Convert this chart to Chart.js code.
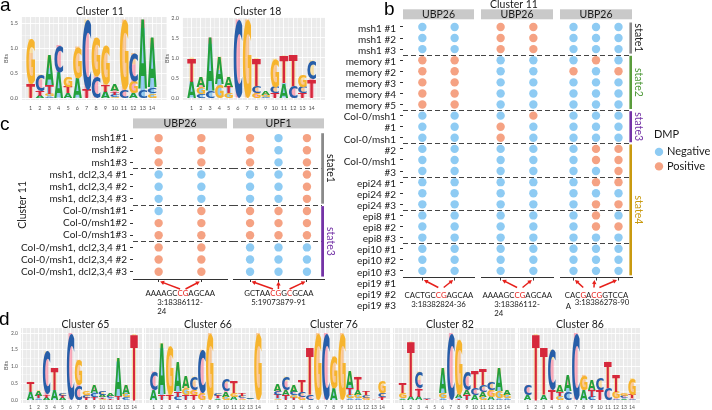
<!DOCTYPE html>
<html>
<head>
<meta charset="utf-8">
<script src="https://cdn.jsdelivr.net/npm/chart.js@4.4.1/dist/chart.umd.min.js"></script>
<style>
  html, body { margin: 0; padding: 0; background: #fff; }
  #fig { position: relative; width: 712px; height: 410px; overflow: hidden; }
  #fig canvas { position: absolute; left: 0; top: 0; }
</style>
</head>
<body>
<div id="fig"></div>
<script>
// ---------- data ----------
const positions = ['1','2','3','4','5','6','7','8','9','10','11','12','13','14'];

// sequence logos: information (bits) per letter and position
const c11A = [0, 0.04, 0.6, 0.52, 0.1, 0.4, 0, 0, 0.13, 0.12, 0, 0.1, 1.4, 1.0];
const c11C = [0, 0.33, 0.03, 0.54, 0, 0, 1.4, 0.43, 0, 0.05, 0.17, 0.57, 0.17, 0.11];
const c11G = [0.9, 0, 0.05, 0, 0.2, 0.63, 0, 0.77, 0.77, 0.02, 1.4, 0.23, 0, 0.09];
const c11T = [0.28, 0.1, 0.17, 0, 0.12, 0, 0.17, 0, 0.13, 0.06, 0, 0, 0, 0];

const c18A = [0.41, 0.26, 1.35, 0.7, 0.25, 0, 0, 0, 0.08, 0, 0.37, 0, 0, 0];
const c18C = [0, 0.1, 0.16, 0, 0, 1.96, 0, 0.17, 0.02, 0.15, 0, 0.29, 0.15, 0.48];
const c18G = [0, 0.16, 0, 0.33, 0.12, 0, 1.96, 0.13, 0.05, 0.71, 0, 0, 0.3, 0];
const c18T = [0.6, 0, 0, 0, 0.16, 0, 0, 0.7, 0, 0.12, 0.69, 0.78, 0.12, 0.46];

const c65A = [0.25, 0.17, 0.07, 0.3, 0.06, 0, 0, 0, 0.25, 0.07, 0.08, 1.15, 0.27, 0];
const c65C = [0, 0.05, 1.3, 0, 0.08, 2.0, 0.45, 0.08, 0.12, 0.1, 0.07, 0, 0.08, 0];
const c65G = [0, 0, 0, 0, 0, 0, 0.75, 0.12, 0, 0.04, 0, 0, 0.1, 0];
const c65T = [0.3, 0.08, 0.08, 0.65, 0.07, 0, 0, 0.07, 0.08, 0.05, 0.05, 0.1, 0, 1.97];

const c66A = [0.3, 1.55, 0, 0.85, 0.35, 0, 0, 0, 0.05, 0.15, 0.1, 0, 0.02, 0];
const c66C = [0.55, 0, 0, 0.1, 0, 0.4, 1.3, 0, 0.08, 0.35, 0, 0.07, 0.02, 0];
const c66G = [0, 0, 1.45, 0, 0.2, 0.16, 0.2, 2.0, 0, 0.1, 0.11, 0.05, 0.01, 2.0];
const c66T = [0, 0.15, 0.15, 0.15, 0.15, 0.14, 0, 0, 0.06, 0, 0.35, 0.08, 0.01, 0];

const c76A = [0.2, 0.16, 0.2, 0, 0, 0, 0, 0.35, 0, 0.5, 0.15, 0, 0.01, 0];
const c76C = [0.11, 0.4, 0.1, 0.15, 0.15, 0, 2.0, 0, 0, 0.05, 0.05, 0.08, 0.01, 0.1];
const c76G = [0.05, 0, 0.08, 0.1, 0, 2.0, 0, 0.95, 2.0, 0.1, 0.1, 0.07, 0.01, 0.35];
const c76T = [0.1, 0.14, 0.07, 0.35, 1.4, 0, 0, 0, 0, 0.2, 0.4, 0.1, 0, 0.09];

const c82A = [0.05, 0.1, 0.1, 0, 0.01, 0.75, 0, 0.1, 0.15, 0.15, 0.15, 0.1, 0.7, 0.15];
const c82C = [0, 0, 0.5, 0.03, 0.01, 0.05, 2.0, 0, 0.55, 0.2, 0.2, 0.25, 0.05, 0.05];
const c82G = [0.15, 0, 0, 0, 0, 0.15, 0, 1.65, 0, 0, 0.1, 0.2, 0.2, 0.1];
const c82T = [0.3, 1.65, 0.25, 0.02, 0, 0, 0, 0.05, 0.14, 0.5, 0.45, 0, 0, 0];

const c86A = [0.15, 0, 0.15, 0, 0.2, 0.45, 0, 0.3, 0.3, 0, 0, 0, 0.05, 0];
const c86C = [0.3, 0, 0, 1.2, 0, 0.25, 2.0, 0, 0.1, 0.35, 0.35, 0.05, 0.07, 0.05];
const c86G = [0, 0, 0, 0, 0.12, 0, 0, 0.45, 0, 0, 0, 0.2, 0.08, 0.5];
const c86T = [0, 1.97, 1.4, 0.3, 0.13, 0, 0, 0, 0.2, 0.3, 0.8, 0.5, 0, 0.1];

// panel b: DMP calls (1 = Positive, 0 = Negative), one array per site column
const bLabels = ['msh1 #1', 'msh1 #2', 'msh1 #3', 'memory #1', 'memory #2', 'memory #3', 'memory #4', 'memory #5',
  'Col-0/msh1', '#1', 'Col-0/msh1', '#2', 'Col-0/msh1', '#3', 'epi24 #1', 'epi24 #2', 'epi24 #3',
  'epi8 #1', 'epi8 #2', 'epi8 #3', 'epi10 #1', 'epi10 #2', 'epi10 #3', 'epi19 #1', 'epi19 #2', 'epi19 #3'];
const bRowCount = 23;
const bSite1 = [
  [0,0,0,1,1,1,1,1,0,0,0,0,0,0,0,0,0,0,0,0,0,0,0],
  [0,0,0,1,1,1,1,1,0,0,0,0,0,0,0,0,0,0,0,0,0,0,0]];
const bSite2 = [
  [1,1,1,0,0,0,0,0,0,1,1,0,0,0,0,0,0,0,0,0,0,0,0],
  [1,1,1,0,0,0,0,0,1,0,0,0,0,0,0,0,0,0,0,0,0,0,0]];
const bSite3 = [
  [0,0,0,0,1,0,0,0,0,0,0,0,0,0,0,0,0,0,0,0,0,0,0],
  [0,0,0,1,0,0,0,0,0,0,0,1,1,0,1,0,1,1,1,0,0,0,0],
  [0,0,0,0,1,0,0,0,0,0,0,1,1,1,1,0,1,0,1,0,0,0,0]];
const bGroupEnds = [3, 8, 11, 14, 17, 20];
const bStates = ['state1', 'state2', 'state3', 'state4'];
const bStateRows = [[1, 3], [4, 8], [9, 11], [12, 23]];
const bFacets = ['UBP26', 'UBP26', 'UBP26'];
const bSites = [
  { seq: 'CACTGCCGAGCAA', red: [7, 8], coord: ['3:18382824-36'] },
  { seq: 'AAAAGCCGAGCAA', red: [7, 8], coord: ['3:18386112-', '24'] },
  { seq: 'CACGACGGTCCA', red: [4, 6, 7], tail: 'A', coord: ['3:18386278-90'] }];

// panel c
const cLabels = ['msh1#1', 'msh1#2', 'msh1#3', 'msh1, dcl2,3,4 #1', 'msh1, dcl2,3,4 #2', 'msh1, dcl2,3,4 #3',
  'Col-0/msh1#1', 'Col-0/msh1#2', 'Col-0/msh1#3', 'Col-0/msh1, dcl2,3,4 #1', 'Col-0/msh1, dcl2,3,4 #2', 'Col-0/msh1, dcl2,3,4 #3'];
const cUBP26 = [
  [1,1,1,0,0,0,0,1,1,1,1,1],
  [1,1,1,0,0,0,1,1,1,1,1,1]];
const cUPF1 = [
  [1,1,1,0,0,0,1,1,1,0,0,0],
  [0,0,0,0,0,0,1,1,1,0,0,0],
  [1,1,1,1,1,1,1,1,1,0,0,0]];
const cGroupEnds = [3, 6, 9];
const cStates = ['state1', 'state3'];
const cStateRows = [[1, 6], [7, 12]];
const cFacets = ['UBP26', 'UPF1'];
const cSites = [
  { seq: 'AAAAGCCGAGCAA', red: [7, 8], coord: ['3:18386112-', '24'] },
  { seq: 'GCTAACGGCGCAA', red: [6, 7, 9], coord: ['5:19073879-91'] }];

// ---------- styles ----------
const letterColors = { A: '#23a03c', C: '#275ea8', G: '#f6b42e', T: '#d6283c' };
const dmpColors = { Negative: '#8ecbf3', Positive: '#f5a283' };
const stateColors = { state1: '#8a8a8a', state2: '#5a9c3c', state3: '#7433a6', state4: '#c99a10' };
const stateText = { state1: '#222', state2: '#4f9a3a', state3: '#7433a6', state4: '#c99a10' };
const RED = '#e6201b';
const INK = '#1a1a1a';
Chart.defaults.font.family = 'Lato';
Chart.defaults.color = INK;

const W = 712, H = 410;
const fig = document.getElementById('fig');
function canvas() {
  const c = document.createElement('canvas');
  c.width = W; c.height = H;
  fig.appendChild(c);
  return c;
}
function pad(g, yw, xh) {
  return { left: g.l - yw, top: g.t, right: W - g.r, bottom: H - g.b - xh };
}
function text(ctx, s, x, y, font, color, align, rot) {
  ctx.save();
  ctx.font = font; ctx.fillStyle = color || INK;
  ctx.textAlign = align || 'center'; ctx.textBaseline = 'middle';
  ctx.translate(x, y);
  if (rot) ctx.rotate(rot);
  ctx.fillText(s, 0, 0);
  ctx.restore();
}
const panelFont = '19px "Liberation Sans"';

// ---------- sequence logo ----------
function drawGlyph(ctx, ch, color, x, y, w, h) {
  if (h < 0.25) return;
  ctx.save();
  ctx.font = 'bold 100px "DejaVu Sans"';
  const m = ctx.measureText(ch);
  const gw = m.actualBoundingBoxLeft + m.actualBoundingBoxRight;
  const gh = m.actualBoundingBoxAscent + m.actualBoundingBoxDescent;
  ctx.translate(x, y);
  ctx.scale(w / gw, h / gh);
  ctx.fillStyle = color;
  ctx.textAlign = 'left'; ctx.textBaseline = 'alphabetic';
  ctx.fillText(ch, m.actualBoundingBoxLeft, m.actualBoundingBoxAscent);
  ctx.restore();
}

const logoLetters = {
  id: 'logoLetters',
  beforeDraw(chart) {
    const a = chart.chartArea, ctx = chart.ctx;
    ctx.save();
    ctx.fillStyle = '#ebebeb';
    ctx.fillRect(a.left, a.top, a.width, a.height);
    ctx.restore();
  },
  afterDatasetsDraw(chart) {
    const ctx = chart.ctx, a = chart.chartArea, xs = chart.scales.x, ys = chart.scales.y;
    const step = Math.abs(xs.getPixelForValue(2) - xs.getPixelForValue(1));
    ctx.save();
    ctx.beginPath(); ctx.rect(a.left, a.top, a.width, a.height); ctx.clip();
    chart.data.labels.forEach((lab, i) => {
      const cx = xs.getPixelForValue(Number(lab));
      const w = step * 0.94;
      const stack = chart.data.datasets.map(d => ({ d, v: d.data[i] }))
        .filter(s => s.v > 0).sort((p, q) => p.v - q.v);
      let base = 0;
      stack.forEach(s => {
        const y0 = ys.getPixelForValue(base), y1 = ys.getPixelForValue(base + s.v);
        drawGlyph(ctx, s.d.label, s.d.glyph, cx - w / 2, y1, w, y0 - y1);
        base += s.v;
      });
    });
    ctx.restore();
  }
};

function logo(title, A, C, G, T, g) {
  const yTicks = [];
  for (let v = 0; v <= g.yMax + 1e-9; v += 0.25) yTicks.push(+v.toFixed(2));
  const xTicks = [];
  for (let v = Math.ceil(g.xMin * 2) / 2; v <= g.xMax + 1e-9; v += 0.5) xTicks.push(v);
  const major = v => Math.abs(v * 2 - Math.round(v * 2)) < 1e-6;
  return new Chart(canvas(), {
    type: 'bar',
    data: {
      labels: positions,
      datasets: [['A', A], ['C', C], ['G', G], ['T', T]].map(([l, d]) => ({ label: l, data: d, glyph: letterColors[l] }))
    },
    options: {
      responsive: false, animation: false, events: [],
      layout: { padding: pad(g, g.yw, g.xh) },
      datasets: { bar: { backgroundColor: 'rgba(0,0,0,0)', borderWidth: 0, categoryPercentage: 1, barPercentage: 0.94 } },
      plugins: { legend: { display: false }, tooltip: { enabled: false } },
      scales: {
        x: {
          type: 'linear', stacked: true, min: g.xMin, max: g.xMax, offset: false,
          afterBuildTicks: s => { s.ticks = xTicks.map(v => ({ value: v })); },
          afterFit: s => { s.height = g.xh; },
          ticks: { autoSkip: false, maxRotation: 0, padding: g.xPad, font: { size: g.tick }, color: '#555',
            callback: v => (Number.isInteger(v) && v >= 1 && v <= 14 ? String(v) : '') },
          grid: { color: '#fff', offset: false, drawTicks: false,
            lineWidth: c => (c.tick && Number.isInteger(c.tick.value) ? 0.9 : 0.4) },
          border: { display: false }
        },
        y: {
          stacked: true, min: g.yMin, max: g.yMax,
          afterBuildTicks: s => { s.ticks = yTicks.map(v => ({ value: v })); },
          afterFit: s => { s.width = g.yw; },
          ticks: { display: g.showY, autoSkip: false, padding: 3, font: { size: g.tick }, color: '#555',
            callback: v => (major(v) ? v.toFixed(1) : '') },
          title: { display: g.showY, text: 'Bits', font: { size: 5.5 }, color: '#555', padding: { top: 2, bottom: 0 } },
          grid: { color: '#fff', drawTicks: false,
            lineWidth: c => (c.tick && major(c.tick.value) ? 0.9 : 0.4) },
          border: { display: false }
        }
      }
    },
    plugins: [logoLetters, {
      id: 'logoTitle',
      afterDraw(chart) {
        const a = chart.chartArea, ctx = chart.ctx;
        text(ctx, title, (a.left + a.right) / 2 + g.titleDx, g.titleY, '10.5px Lato', INK);
        if (g.panel) text(ctx, g.panel[0], g.panel[1], g.panel[2], panelFont, '#000', 'left');
      }
    }]
  });
}

// ---------- DMP dot panels ----------
function arrow(ctx, x0, y0, x1, y1) {
  const ang = Math.atan2(y1 - y0, x1 - x0), L = 4.6, spread = 0.5;
  ctx.beginPath();
  ctx.moveTo(x0, y0);
  ctx.lineTo(x1 - Math.cos(ang) * L * 0.7, y1 - Math.sin(ang) * L * 0.7);
  ctx.stroke();
  ctx.beginPath();
  ctx.moveTo(x1, y1);
  ctx.lineTo(x1 - L * Math.cos(ang - spread), y1 - L * Math.sin(ang - spread));
  ctx.lineTo(x1 - L * Math.cos(ang + spread), y1 - L * Math.sin(ang + spread));
  ctx.closePath();
  ctx.fill();
}

function drawSite(chart, site, dy) {
  const ctx = chart.ctx, a = chart.chartArea, xs = chart.scales.x;
  const cx = (a.left + a.right) / 2, y0 = a.bottom;
  ctx.save();
  ctx.font = '7.8px Lato';
  ctx.textAlign = 'left'; ctx.textBaseline = 'middle';
  const w = ctx.measureText(site.seq).width;
  const left = cx - w / 2;
  let x = left;
  const redX = [];
  [...site.seq].forEach((ch, i) => {
    const cw = ctx.measureText(ch).width;
    const isRed = site.red.includes(i + 1);
    ctx.fillStyle = isRed ? RED : INK;
    ctx.fillText(ch, x, y0 + dy);
    if (isRed) redX.push(x + cw / 2);
    x += cw;
  });
  ctx.fillStyle = INK;
  if (site.tail) {
    ctx.fillText(site.tail, left + 1, y0 + dy + 10.5);
    ctx.fillText(site.coord[0], left + 10, y0 + dy + 6.5);
  } else {
    const l2 = cx - ctx.measureText(site.coord[0]).width / 2;
    site.coord.forEach((t, k) => ctx.fillText(t, l2, y0 + dy + 9 + k * 9.3));
  }
  ctx.strokeStyle = RED; ctx.fillStyle = RED; ctx.lineWidth = 1.5;
  redX.forEach((sx, k) => {
    const tx = xs.getPixelForValue(k);
    const shift = Math.abs(sx - tx) < 1 ? 0 : Math.sign(sx - tx) * 1.5;
    arrow(ctx, sx, y0 + 10, tx + shift, y0 + 2.5);
  });
  ctx.restore();
}

function drawStates(chart, names, rows, barW, textDx) {
  const ctx = chart.ctx, a = chart.chartArea, ys = chart.scales.y;
  names.forEach((nm, k) => {
    const top = ys.getPixelForValue(rows[k][0] - 0.4), bot = ys.getPixelForValue(rows[k][1] + 0.4);
    ctx.fillStyle = stateColors[nm];
    ctx.fillRect(a.right - barW, top, barW, bot - top);
    text(ctx, nm, a.right + textDx, (top + bot) / 2, '10.5px Lato', stateText[nm], 'center', Math.PI / 2);
  });
}

function dmp(cols, nRows, g) {
  const neg = [], posi = [];
  cols.forEach((col, ci) => col.forEach((v, ri) => (v ? posi : neg).push({ x: ci, y: ri + 1 })));
  return new Chart(canvas(), {
    type: 'scatter',
    data: {
      datasets: [
        { label: 'Negative', data: neg, backgroundColor: dmpColors.Negative },
        { label: 'Positive', data: posi, backgroundColor: dmpColors.Positive }]
    },
    options: {
      responsive: false, animation: false, events: [],
      layout: { padding: pad(g, g.yw, 4) },
      elements: { point: { radius: 4.2, hoverRadius: 4.2, borderWidth: 0 } },
      plugins: { legend: { display: false }, tooltip: { enabled: false } },
      scales: {
        x: {
          type: 'linear', min: -0.6, max: cols.length - 0.4,
          afterBuildTicks: s => { s.ticks = cols.map((c, i) => ({ value: i })); },
          afterFit: s => { s.height = 4; },
          ticks: { display: false },
          grid: { drawOnChartArea: false, tickLength: 3, color: '#333' },
          border: { display: true, color: '#333', width: 1 }
        },
        y: {
          type: 'linear', reverse: true, min: 0.4, max: nRows + 0.6, display: g.yw > 0,
          afterBuildTicks: s => { s.ticks = cols[0].map((v, i) => ({ value: i + 1 })); },
          afterFit: s => { s.width = g.yw; },
          ticks: { display: !!g.yLabels, autoSkip: false, padding: 3, font: { size: 10 }, color: INK,
            callback: v => (g.yLabels ? g.yLabels[v - 1] : '') },
          grid: { drawOnChartArea: false, tickLength: 3, color: '#333' },
          border: { display: false }
        }
      }
    },
    plugins: [{
      id: 'dmpDecor',
      beforeDatasetsDraw(chart) {
        const ctx = chart.ctx, a = chart.chartArea, ys = chart.scales.y;
        ctx.save();
        ctx.setLineDash([5, 3]); ctx.strokeStyle = '#444'; ctx.lineWidth = 1;
        g.breaks.forEach(r => {
          const py = Math.round(ys.getPixelForValue(r + 0.5)) + 0.5;
          ctx.beginPath(); ctx.moveTo(a.left, py); ctx.lineTo(a.right + g.ext, py); ctx.stroke();
        });
        ctx.restore();
      },
      afterDraw(chart) {
        const ctx = chart.ctx, a = chart.chartArea;
        ctx.save();
        ctx.fillStyle = '#c9c9c9';
        ctx.fillRect(a.left, a.top - g.stripGap - 10, a.width, 10);
        ctx.restore();
        text(ctx, g.facet, (a.left + a.right) / 2, a.top - g.stripGap - 4.6, '10.5px Lato', INK);
        drawSite(chart, g.site, g.seqDy);
        if (g.extra) g.extra(chart, ctx, a);
      }
    }]
  });
}

// ---------- panel a ----------
logo('Cluster 11', c11A, c11C, c11G, c11T,
  { l: 21, t: 17, r: 167, b: 100, xMin: -0.03, xMax: 15.6, yMin: -0.04, yMax: 1.62, yw: 20, xh: 12, xPad: 5,
    tick: 5.5, showY: true, titleY: 11.5, titleDx: 6, panel: ['a', 0, 6] });
logo('Cluster 18', c18A, c18C, c18G, c18T,
  { l: 182, t: 17, r: 325, b: 100, xMin: -0.05, xMax: 15.45, yMin: -0.05, yMax: 2.02, yw: 20, xh: 12, xPad: 5,
    tick: 5.5, showY: true, titleY: 11.5, titleDx: 4 });

// ---------- panel d ----------
const dBox = { t: 328, b: 403, xMin: -0.2, xMax: 15, yMin: -0.09, yMax: 2.15, xh: 7, xPad: 1.5, tick: 5, titleY: 324.5 };
logo('Cluster 65', c65A, c65C, c65G, c65T, Object.assign({}, dBox, { l: 21, r: 142, yw: 20, showY: true, titleDx: 4, panel: ['d', -1, 320] }));
logo('Cluster 66', c66A, c66C, c66G, c66T, Object.assign({}, dBox, { l: 144, r: 266, yw: 0, showY: false, titleDx: 3 }));
logo('Cluster 76', c76A, c76C, c76G, c76T, Object.assign({}, dBox, { l: 268, r: 390, yw: 0, showY: false, titleDx: 5 }));
logo('Cluster 82', c82A, c82C, c82G, c82T, Object.assign({}, dBox, { l: 393, r: 515, yw: 0, showY: false, titleDx: -4 }));
logo('Cluster 86', c86A, c86C, c86G, c86T, Object.assign({}, dBox, { l: 518, r: 640, yw: 0, showY: false, titleDx: 1 }));

// ---------- panel b ----------
const bBox = { t: 20.3, b: 277.5, breaks: bGroupEnds, stripGap: 1, seqDy: 18 };
dmp(bSite1, bRowCount, Object.assign({}, bBox, {
  l: 403, r: 474, yw: 4, ext: 7, facet: bFacets[0], site: bSites[0],
  extra(chart, ctx, a) {
    const ys = chart.scales.y;
    ctx.save();
    ctx.font = '10px Lato'; ctx.fillStyle = INK; ctx.textAlign = 'right'; ctx.textBaseline = 'middle';
    bLabels.forEach((t, i) => ctx.fillText(t, a.left - 7, ys.getPixelForValue(i + 1) + 1.5));
    ctx.restore();
    text(ctx, 'Cluster 11', 514, 4.8, '10.5px Lato', INK);
    text(ctx, 'b', 384, 10, panelFont, '#000', 'left');
  }
}));
dmp(bSite2, bRowCount, Object.assign({}, bBox, { l: 481, r: 553, yw: 0, ext: 7, facet: bFacets[1], site: bSites[1] }));
dmp(bSite3, bRowCount, Object.assign({}, bBox, {
  l: 560, r: 632, yw: 0, ext: -3, facet: bFacets[2], site: bSites[2],
  extra(chart, ctx, a) {
    drawStates(chart, bStates, bStateRows, 2.6, 6.5);
    const cy = (a.top + a.bottom) / 2;
    text(ctx, 'DMP', a.right + 22, cy - 14, '11px Lato', INK, 'left');
    chart.data.datasets.forEach((d, k) => {
      const py = cy + 3 + k * 14.5;
      ctx.save();
      ctx.fillStyle = d.backgroundColor;
      ctx.beginPath(); ctx.arc(a.right + 27, py, 4.2, 0, Math.PI * 2); ctx.fill();
      ctx.restore();
      text(ctx, d.label, a.right + 35, py, '11px Lato', INK, 'left');
    });
  }
}));

// ---------- panel c ----------
const cBox = { t: 130.8, b: 279, breaks: cGroupEnds, stripGap: 2.4, seqDy: 14.3 };
dmp(cUBP26, cLabels.length, Object.assign({}, cBox, {
  l: 133, r: 227, yw: 130, yLabels: cLabels, ext: 6, facet: cFacets[0], site: cSites[0],
  extra(chart, ctx, a) {
    text(ctx, 'Cluster 11', 23, (a.top + a.bottom) / 2, '10.5px Lato', INK, 'center', -Math.PI / 2);
    text(ctx, 'c', 0, 125, panelFont, '#000', 'left');
  }
}));
dmp(cUPF1, cLabels.length, Object.assign({}, cBox, {
  l: 233, r: 324, yw: 0, ext: -2, facet: cFacets[1], site: cSites[1],
  extra(chart) { drawStates(chart, cStates, cStateRows, 2.8, 6); }
}));
</script>
</body>
</html>
